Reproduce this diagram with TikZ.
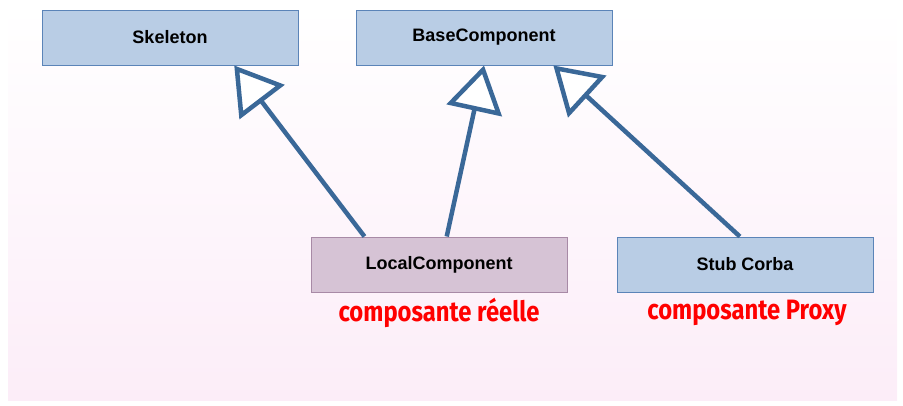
\documentclass[tikz,border=0pt]{standalone}
\usepackage{fontspec}
\setmainfont{Liberation Sans}
\newfontfamily\notefont[FakeStretch=0.85]{Fira Sans}
\usepackage{xcolor}
\usepackage{tikz}
\usetikzlibrary{arrows.meta,calc}
\definecolor{boxblue}{HTML}{B9CDE5}
\definecolor{boxedge}{HTML}{5B84B8}
\definecolor{boxpink}{HTML}{D6C3D5}
\definecolor{pinkedge}{HTML}{A88AA6}
\definecolor{arrowblue}{HTML}{3A6898}
\definecolor{bgpink}{HTML}{FCEDF8}
\definecolor{redlbl}{HTML}{FF0000}

\tikzset{
  classbox/.style={draw=boxedge, line width=1pt, fill=boxblue, minimum width=256pt, minimum height=55pt, font=\fontsize{18}{20}\selectfont\bfseries},
  inherit/.style={draw=arrowblue, line width=4.5pt, -{Triangle[open, fill=white, length=46pt, width=56pt, line width=4.5pt]}},
  note/.style={text=redlbl, font=\notefont\fontsize{28}{30}\selectfont\bfseries}
}

\begin{document}
\begin{tikzpicture}[x=1pt, y=-1pt]
\useasboundingbox (0,0) rectangle (903,405);
% background panel
\shade[top color=white, bottom color=bgpink] (8,8) rectangle (897,400);
% classes
\node[classbox] (skeleton) at (170,37.5) {Skeleton};
\node[classbox] (base) at (484,37.5) {BaseComponent};
\node[classbox, fill=boxpink, draw=pinkedge] (local) at (439,264.5) {LocalComponent};
\node[classbox] (stub) at (745,264.5) {Stub Corba};
% generalisation arrows
\draw[inherit] ($(local.north west)!0.21!(local.north east)$) -- ($(skeleton.south west)!0.75!(skeleton.south east)$);
\draw[inherit] ($(local.north west)!0.53!(local.north east)$) -- (base.south);
\draw[inherit] ($(stub.north west)!0.48!(stub.north east)$) -- ($(base.south west)!0.77!(base.south east)$);
% labels
\node[note] (reel) at (439,313) {composante réelle};
\node[note] (proxy) at (747,313) {composante Proxy};
\end{tikzpicture}
\end{document}
